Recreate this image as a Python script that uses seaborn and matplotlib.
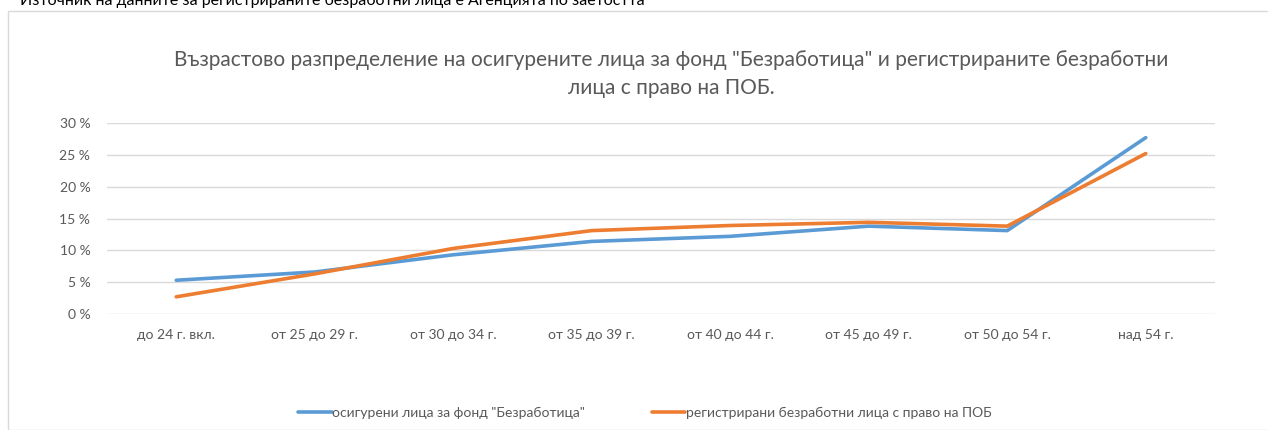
import matplotlib
matplotlib.use("Agg")
import matplotlib.pyplot as plt
import seaborn as sns
import pandas as pd
from matplotlib.patches import Rectangle
from matplotlib.ticker import FuncFormatter, MultipleLocator

categories = ["до 24 г. вкл.", "от 25 до 29 г.", "от 30 до 34 г.", "от 35 до 39 г.",
              "от 40 до 44 г.", "от 45 до 49 г.", "от 50 до 54 г.", "над 54 г."]
insured = [5.3, 6.6, 9.3, 11.4, 12.2, 13.8, 13.1, 27.7]
unemployed = [2.7, 6.3, 10.3, 13.1, 13.9, 14.4, 13.8, 25.2]
series_names = ['осигурени лица за фонд "Безработица"',
                'регистрирани безработни лица с право на ПОБ']

df = pd.DataFrame({
    "cat": categories * 2,
    "x": list(range(len(categories))) * 2,
    "val": insured + unemployed,
    "series": [series_names[0]] * len(categories) + [series_names[1]] * len(categories),
})

sns.set_theme(style="white")
plt.rcParams['font.family'] = ['Lato', 'DejaVu Sans']

fig = plt.figure(figsize=(12.68, 4.30), dpi=100)
ax = fig.add_axes([107/1268, 1-314/430, (1215-107)/1268, (314-123)/430])

sns.lineplot(data=df, x="x", y="val", hue="series",
             palette=["#5B9BD5", "#ED7D31"], linewidth=2.6, ax=ax, legend=True,
             sort=False)

ax.set_xlim(-0.5, len(categories) - 0.5)
ax.set_ylim(0, 30)
ax.yaxis.set_major_locator(MultipleLocator(5))
ax.yaxis.set_major_formatter(FuncFormatter(lambda v, p: f"{int(v)} %"))
ax.set_xticks(range(len(categories)))
ax.set_xticklabels(categories)
ax.set_xlabel("")
ax.set_ylabel("")
ax.grid(axis="y", color="#D9D9D9", linewidth=1)
ax.set_axisbelow(True)
for s in ax.spines.values():
    s.set_visible(False)
ax.tick_params(axis="both", length=0, labelsize=10, colors="#595959")
ax.tick_params(axis="x", pad=11)
ax.tick_params(axis="y", pad=12)

leg = ax.legend(loc="center", bbox_to_anchor=(645/1268, 1-413/430),
                bbox_transform=fig.transFigure, ncol=2, frameon=False,
                fontsize=10, handlelength=2.4, handletextpad=0.05, columnspacing=4.8)
for t in leg.get_texts():
    t.set_color("#595959")

fig.text(671/1268, 1-60/430,
         'Възрастово разпределение на осигурените лица за фонд "Безработица" и регистрираните безработни',
         ha="center", va="center", fontsize=15, color="#595959")
fig.text(671/1268, 1-88/430, 'лица с право на ПОБ.',
         ha="center", va="center", fontsize=15, color="#595959")

fig.text(20/1268, 1-5/430,
         "Източник на данните за регистрираните безработни лица е Агенцията по заетостта",
         ha="left", va="baseline", fontsize=11.5, color="#000000")

fig.patches.append(Rectangle((8/1268, 0), 1.1, 1-11/430, transform=fig.transFigure,
                             fill=False, edgecolor="#D9D9D9", linewidth=1, zorder=0))

fig.savefig("out.png", dpi=100)
